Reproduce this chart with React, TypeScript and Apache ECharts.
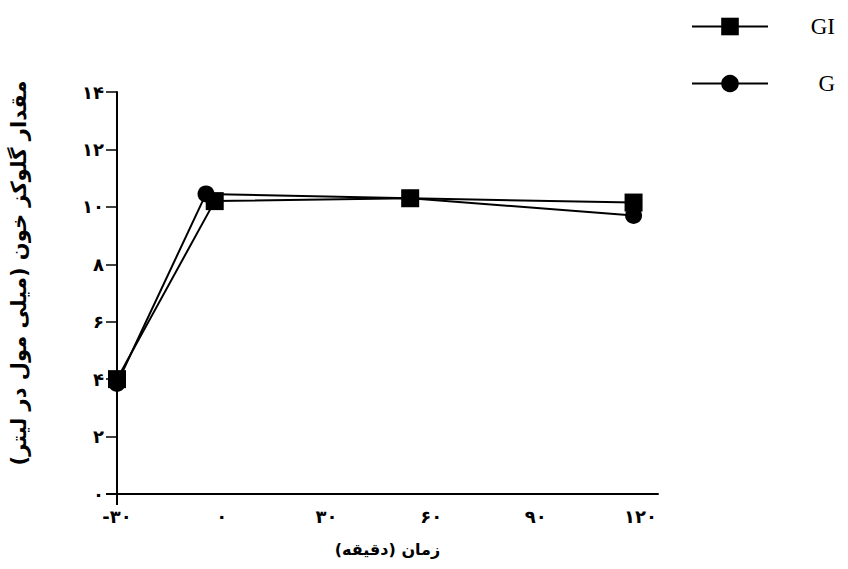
import React, { useEffect, useRef } from "react";
import * as echarts from "echarts";

const xTicks = [-30, 0, 30, 60, 90, 120];
const seriesNames = ["GI", "G"];
const giX = [-30, -2, 54, 118];
const giY = [4.0, 10.2, 10.3, 10.15];
const gX = [-30, -4.5, 54, 118];
const gY = [3.85, 10.45, 10.3, 9.7];
const yAxisTitle = "مقدار گلوکز خون (میلی مول در لیتر)";
const xAxisTitle = "زمان (دقیقه)";

const FA = "۰۱۲۳۴۵۶۷۸۹";
const fa = (n: number) => String(n).replace(/\d/g, (d) => FA[Number(d)]);

const GL = 117, GT = 92, GB = 75, GR = 190;

export default function App() {
  const ref = useRef<HTMLDivElement>(null);
  useEffect(() => {
    if (!ref.current) return;
    const chart = echarts.init(ref.current, null, { renderer: "svg" });
    const pairs = (xs: number[], ys: number[]) => xs.map((x, i) => [x, ys[i]]);
    const persian = "DejaVu Sans";
    const bottomY = 569 - GB;
    chart.setOption({
      animation: false,
      backgroundColor: "#ffffff",
      grid: { left: GL, top: GT, right: GR, bottom: GB, containLabel: false },
      legend: {
        orient: "vertical",
        right: 8,
        top: 10,
        itemWidth: 76,
        itemHeight: 22,
        itemGap: 34,
        itemStyle: { borderWidth: 0 },
        data: seriesNames,
        formatter: "{a|{name}}",
        textStyle: {
          color: "#000",
          rich: {
            a: { fontFamily: "Liberation Serif", fontSize: 23, width: 62, align: "right", color: "#000" },
          },
        },
      },
      xAxis: {
        type: "value",
        min: -30,
        max: 125,
        interval: 30,
        name: xAxisTitle,
        nameLocation: "middle",
        nameGap: 47,
        nameTextStyle: { fontFamily: persian, fontWeight: "bold", fontSize: 16, color: "#000" },
        axisLine: { onZero: true, lineStyle: { color: "#000", width: 2 } },
        axisTick: { show: false },
        splitLine: { show: false },
        axisLabel: {
          margin: 13,
          fontFamily: persian,
          fontWeight: "bold",
          fontSize: 18,
          color: "#000",
          formatter: (v: number) => (xTicks.includes(v) ? fa(v) : ""),
        },
      },
      yAxis: {
        type: "value",
        min: 0,
        max: 14,
        interval: 2,
        name: yAxisTitle,
        nameLocation: "middle",
        nameRotate: 90,
        nameGap: 88,
        nameTextStyle: { fontFamily: persian, fontWeight: "bold", fontSize: 21, color: "#000", padding: [0, 0, 0, 40] },
        axisLine: { onZero: false, lineStyle: { color: "#000", width: 2 } },
        axisTick: { show: true, length: 11, lineStyle: { color: "#000", width: 1.5 } },
        splitLine: { show: false },
        axisLabel: {
          margin: 13,
          fontFamily: persian,
          fontWeight: "bold",
          fontSize: 18,
          color: "#000",
          formatter: (v: number) => fa(v),
        },
      },
      graphic: [
        { type: "line", shape: { x1: GL, y1: bottomY, x2: GL, y2: bottomY + 11 }, style: { stroke: "#000", lineWidth: 2 } },
        { type: "line", shape: { x1: GL - 11, y1: bottomY, x2: GL, y2: bottomY }, style: { stroke: "#000", lineWidth: 2 } },
      ],
      series: [
        {
          name: seriesNames[0],
          type: "line",
          data: pairs(giX, giY),
          symbol: "rect",
          symbolSize: 18,
          itemStyle: { color: "#000" },
          lineStyle: { color: "#000", width: 2 },
          z: 3,
        },
        {
          name: seriesNames[1],
          type: "line",
          data: pairs(gX, gY),
          symbol: "circle",
          symbolSize: 17,
          itemStyle: { color: "#000" },
          lineStyle: { color: "#000", width: 2 },
          z: 2,
        },
      ],
    });
    return () => chart.dispose();
  }, []);
  return <div ref={ref} style={{ position: "fixed", left: 0, top: 0, width: 848, height: 569 }} />;
}
